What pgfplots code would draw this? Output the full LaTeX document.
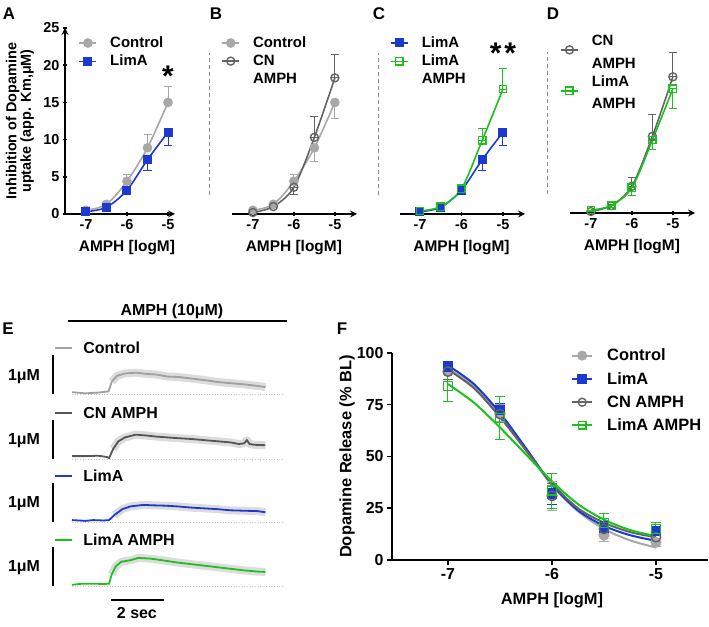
\documentclass[border=0pt]{standalone}
\usepackage{fontspec}
\setmainfont{Liberation Sans}
\usepackage{pgfplots}
\usepackage{pgfplotstable}
\pgfplotsset{compat=1.18}
\definecolor{cCtl}{RGB}{168,168,168}
\definecolor{cLim}{RGB}{28,58,208}
\definecolor{cCN}{RGB}{100,100,100}
\definecolor{cLA}{RGB}{30,192,30}
\definecolor{cDash}{RGB}{140,140,140}
\definecolor{cBand}{RGB}{220,220,220}
\definecolor{tCtl}{RGB}{160,160,160}
\definecolor{tCN}{RGB}{85,85,85}
\newcommand\fsz[1]{\fontsize{#1}{#1}\selectfont\bfseries}
\pgfplotsset{
  ctl/.style={color=cCtl, line width=1.6bp, mark=*, mark size=4bp, mark options={solid}},
  lim/.style={color=cLim, line width=1.6bp, mark=square*, mark size=3.7bp, mark options={solid}},
  cn/.style={color=cCN, line width=1.6bp, mark=o, mark size=4bp, mark options={solid,line width=1.4bp}},
  la/.style={color=cLA, line width=1.6bp, mark=square, mark size=3.7bp, mark options={solid,line width=1.4bp}},
  eb/.style={error bars/y dir=both, error bars/y explicit, error bars/error bar style={line width=1bp}, error bars/error mark options={rotate=90, mark size=4bp, line width=1bp}},
  ebF/.style={error bars/y dir=both, error bars/y explicit, error bars/error bar style={line width=1bp}, error bars/error mark options={rotate=90, mark size=5bp, line width=1bp}},
  dimg/.style={legend image code/.code={\draw[mark repeat=2,mark phase=2,yshift=-9bp] plot coordinates {(0bp,0bp)(8.5bp,0bp)(17bp,0bp)}; \path (28bp,0bp);}},
  panel/.style={scale only axis, height=186bp, ymin=0, ymax=25, anchor=south west, clip=false,
    xtick={-7,-6,-5}, xticklabels={-7,-6,-5},
    tick label style={font=\fsz{14.5}}, label style={font=\fsz{15.5}},
    axis line style={line width=2bp,-}, tick style={line width=1.5bp,black}, major tick length=4bp, tick align=outside,
    xlabel={AMPH [logM]},
    legend cell align=left,
    legend image code/.code={\draw[mark repeat=2,mark phase=2] plot coordinates {(0bp,0bp)(8.5bp,0bp)(17bp,0bp)}; \path (28bp,0bp);},
    legend style={draw=none, fill=none, font=\fsz{15}, anchor=north west, row sep=2bp, nodes={inner sep=2bp}},
  },
}
\pgfplotstableread{
t v
0 0.05
0.5 0.02
1.0 0.04
1.38 0.07
1.5 0.32
1.7 0.47
2.0 0.53
2.4 0.55
2.8 0.52
3.2 0.50
3.6 0.45
4.0 0.44
4.5 0.40
5.0 0.36
5.5 0.31
6.0 0.28
6.5 0.25
7.0 0.21
7.3 0.18
}\trCtl
\pgfplotstableread{
t v
0 0.07
0.5 0.07
1.0 0.08
1.3 0.05
1.4 0.02
1.55 0.25
1.75 0.45
2.0 0.55
2.4 0.62
2.8 0.60
3.2 0.57
3.6 0.55
4.0 0.53
4.5 0.51
5.0 0.48
5.5 0.45
6.0 0.42
6.3 0.38
6.5 0.40
6.6 0.48
6.7 0.38
6.9 0.36
7.3 0.35
}\trCN
\pgfplotstableread{
t v
0 0.05
0.5 0.03
0.8 0.05
1.2 0.04
1.4 0.05
1.6 0.18
1.9 0.33
2.2 0.40
2.7 0.44
3.0 0.43
3.5 0.42
4.0 0.40
4.5 0.37
5.0 0.35
5.5 0.33
6.0 0.30
6.5 0.29
7.0 0.28
7.3 0.25
}\trLim
\pgfplotstableread{
t v
0 0.03
0.4 0.06
0.8 0.06
1.2 0.05
1.4 0.06
1.5 0.30
1.65 0.50
1.85 0.62
2.2 0.66
2.5 0.72
3.0 0.70
3.5 0.65
4.0 0.60
4.5 0.56
5.0 0.52
5.5 0.48
6.0 0.44
6.5 0.40
7.0 0.37
7.3 0.36
}\trLA
\pgfplotstableread{
x y p m
-7 0.5 0.2 0
-6.5 1.3 0.3 0
-6 4.4 0.9 0
-5.5 8.9 1.8 0
-5 15.0 2.2 0
}\aCtl
\pgfplotstableread{
x y p m
-7 0.3 0 0.2
-6.5 0.9 0 0.2
-6 3.2 0 0.5
-5.5 7.3 0 1.4
-5 11.0 0 1.8
}\aLim
\pgfplotstableread{
x y p m
-7 0.5 0 0.2
-6.5 1.3 0.3 0
-6 4.4 0.9 0
-5.5 8.9 0 1.9
-5 15.0 0 2.2
}\bCtl
\pgfplotstableread{
x y p m
-7 0.2 0.2 0
-6.5 1.0 0.2 0
-6 3.6 0 1.0
-5.5 10.3 2.8 0
-5 18.3 3.2 0
}\bCN
\pgfplotstableread{
x y p m
-7 0.4 0.2 0
-6.5 1.0 0.2 0
-6 3.4 0.3 0
-5.5 9.9 1.6 0
-5 16.8 2.8 0
}\cLA
\pgfplotstableread{
x y p m
-7 0.2 0.2 0
-6.5 1.0 0.2 0
-6 3.6 1.2 0
-5.5 10.3 2.9 0
-5 18.3 3.3 0
}\dCN
\pgfplotstableread{
x y p m
-7 0.4 0 0.2
-6.5 1.0 0 0.2
-6 3.4 0 1.1
-5.5 9.8 0 1.3
-5 16.7 0 2.7
}\dLA
\pgfplotstableread{
x y e
-7 91 4
-6.5 71 4
-6 31 7
-5.5 12 3
-5 8.5 2
}\fCtl
\pgfplotstableread{
x y e
-7 93.5 1.5
-6.5 72.5 3
-6 32 5
-5.5 15.5 3
-5 14 2
}\fLim
\pgfplotstableread{
x y e
-7 91 4
-6.5 70.5 4
-6 31 6
-5.5 15 3
-5 11 2
}\fCN
\pgfplotstableread{
x y e
-7 84 7.5
-6.5 68.5 10.5
-6 33.5 8.5
-5.5 18 4.5
-5 15 3
}\fLA
\begin{document}
\begin{tikzpicture}
\useasboundingbox (0,0) rectangle (709bp,627bp);
\node[font=\fsz{17}] at (9bp,613bp) {A};
\node[font=\fsz{17}] at (216bp,613bp) {B};
\node[font=\fsz{17}] at (379bp,613bp) {C};
\node[font=\fsz{17}] at (553bp,613bp) {D};
\node[font=\fsz{17}] at (8bp,298bp) {E};
\node[font=\fsz{17}] at (342bp,298bp) {F};
\node[font=\fsz{30}] at (168bp,551bp) {*};
\node[font=\fsz{30}] at (503bp,574bp) {*\hspace{3bp}*};

% ---------- A
\begin{axis}[panel, at={(65bp,413bp)}, width=110bp, xmin=-7.51, xmax=-4.83, axis lines=left,
  xlabel style={at={(axis description cs:0.563,0)}, anchor=center, yshift=-34bp},
  ytick={0,5,10,15,20,25}, yticklabels={0,5,10,15,20,25},
  ylabel={Inhibition of Dopamine\\uptake (app. Km,μM)},
  ylabel style={at={(axis description cs:-0.41,0.5)}, anchor=center, align=center, font=\fsz{14.5}},
  legend style={at={(0.095,0.975)}}]
\addplot[ctl, smooth, eb] table[x=x, y=y, y error plus=p, y error minus=m] {\aCtl};
\addlegendentry{Control}
\addplot[lim, smooth, eb] table[x=x, y=y, y error plus=p, y error minus=m] {\aLim};
\addlegendentry{LimA}
\end{axis}

% ---------- B
\begin{axis}[panel, at={(232bp,413bp)}, width=125bp, xmin=-7.51, xmax=-4.46, axis x line=bottom, axis y line=none,
  xlabel style={at={(axis description cs:0.495,0)}, anchor=center, yshift=-34bp},
  legend style={at={(-0.11,0.975)}}]
\draw[cDash, line width=1bp, dash pattern=on 4bp off 3bp] (axis cs:-8.05,2.55) -- (axis cs:-8.05,21.6);
\addplot[ctl, smooth, eb] table[x=x, y=y, y error plus=p, y error minus=m] {\bCtl};
\addlegendentry{Control}
\addplot[cn, smooth, eb] table[x=x, y=y, y error plus=p, y error minus=m] {\bCN};
\addlegendentry{CN}
\addlegendimage{empty legend}
\addlegendentry{AMPH}
\end{axis}

% ---------- C
\begin{axis}[panel, at={(400bp,413bp)}, width=125bp, xmin=-7.48, xmax=-4.47, axis x line=bottom, axis y line=none,
  xlabel style={at={(axis description cs:0.492,0)}, anchor=center, yshift=-34bp},
  legend style={at={(-0.104,0.975)}}]
\draw[cDash, line width=1bp, dash pattern=on 4bp off 3bp] (axis cs:-8.0,2.55) -- (axis cs:-8.0,21.6);
\addplot[lim, smooth, eb] table[x=x, y=y, y error plus=p, y error minus=m] {\aLim};
\addlegendentry{LimA}
\addplot[la, smooth, eb] table[x=x, y=y, y error plus=p, y error minus=m] {\cLA};
\addlegendentry{LimA}
\addlegendimage{empty legend}
\addlegendentry{AMPH}
\end{axis}

% ---------- D
\begin{axis}[panel, at={(570bp,414bp)}, width=125bp, xmin=-7.51, xmax=-4.46, axis x line=bottom, axis y line=none,
  xlabel style={at={(axis description cs:0.495,0)}, anchor=center, yshift=-34bp},
  legend style={at={(-0.104,0.98)}}]
\draw[cDash, line width=1bp, dash pattern=on 4bp off 3bp] (axis cs:-8.07,2.55) -- (axis cs:-8.07,21.6);
\addplot[cn, smooth, eb, dimg] table[x=x, y=y, y error plus=p, y error minus=m] {\dCN};
\addlegendentry{CN}
\addlegendimage{empty legend}
\addlegendentry{AMPH}
\addplot[la, smooth, eb, dimg] table[x=x, y=y, y error plus=p, y error minus=m] {\dLA};
\addlegendentry{LimA}
\addlegendimage{empty legend}
\addlegendentry{AMPH}
\end{axis}

% ---------- E
\begin{axis}[scale only axis, at={(72bp,41bp)}, anchor=south west, width=212bp, height=234bp,
  xmin=0, xmax=8, ymin=0, ymax=6, axis lines=none, clip=false]
\addplot[cBand, line width=8bp, line join=round, restrict x to domain=1.45:8, forget plot] table[x=t, y expr=\thisrow{v}+4.92] {\trCtl};
\addplot[gray!45, dotted, line width=0.7bp, forget plot] coordinates {(0,4.92) (7.96,4.92)};
\addplot[tCtl, line width=1.8bp, forget plot] table[x=t, y expr=\thisrow{v}+4.92] {\trCtl};
\addplot[cBand, line width=8bp, line join=round, restrict x to domain=1.45:8, forget plot] table[x=t, y expr=\thisrow{v}+3.26] {\trCN};
\addplot[gray!45, dotted, line width=0.7bp, forget plot] coordinates {(0,3.26) (7.96,3.26)};
\addplot[tCN, line width=1.8bp, forget plot] table[x=t, y expr=\thisrow{v}+3.26] {\trCN};
\addplot[cBand, line width=8bp, line join=round, restrict x to domain=1.45:8, forget plot] table[x=t, y expr=\thisrow{v}+1.64] {\trLim};
\addplot[gray!45, dotted, line width=0.7bp, forget plot] coordinates {(0,1.64) (7.96,1.64)};
\addplot[cLim, line width=1.8bp, forget plot] table[x=t, y expr=\thisrow{v}+1.64] {\trLim};
\addplot[cBand, line width=8bp, line join=round, restrict x to domain=1.45:8, forget plot] table[x=t, y=v] {\trLA};
\addplot[gray!45, dotted, line width=0.7bp, forget plot] coordinates {(0,0) (7.96,0)};
\addplot[cLA, line width=1.8bp, forget plot] table[x=t, y=v] {\trLA};
\draw[tCtl, line width=2bp] (axis cs:-0.64,6.10) -- (axis cs:0,6.10);
\node[anchor=west, font=\fsz{16}] at (axis cs:0.3,6.10) {Control};
\draw[tCN, line width=2bp] (axis cs:-0.64,4.44) -- (axis cs:0,4.44);
\node[anchor=west, font=\fsz{16}] at (axis cs:0.3,4.44) {CN AMPH};
\draw[cLim, line width=2bp] (axis cs:-0.64,2.82) -- (axis cs:0,2.82);
\node[anchor=west, font=\fsz{16}] at (axis cs:0.3,2.82) {LimA};
\draw[cLA, line width=2bp] (axis cs:-0.64,1.18) -- (axis cs:0,1.18);
\node[anchor=west, font=\fsz{16}] at (axis cs:0.3,1.18) {LimA AMPH};
\draw[line width=2bp] (axis cs:-0.72,4.92) -- (axis cs:-0.72,5.92);
\draw[line width=2bp] (axis cs:-0.72,3.26) -- (axis cs:-0.72,4.26);
\draw[line width=2bp] (axis cs:-0.72,1.64) -- (axis cs:-0.72,2.64);
\draw[line width=2bp] (axis cs:-0.72,0) -- (axis cs:-0.72,1);
\node[font=\fsz{16}] at (axis cs:-1.81,5.38) {1μM};
\node[font=\fsz{16}] at (axis cs:-1.81,3.72) {1μM};
\node[font=\fsz{16}] at (axis cs:-1.81,2.10) {1μM};
\node[font=\fsz{16}] at (axis cs:-1.81,0.46) {1μM};
\draw[line width=1.5bp] (axis cs:-0.15,6.79) -- (axis cs:8.11,6.79);
\node[font=\fsz{16}] at (axis cs:3.77,7.05) {AMPH (10μM)};
\draw[line width=2bp] (axis cs:1.47,-0.36) -- (axis cs:3.47,-0.36);
\node[font=\fsz{16}] at (axis cs:2.45,-0.69) {2 sec};
\end{axis}

% ---------- F
\begin{axis}[scale only axis, at={(392bp,67bp)}, anchor=south west, width=316bp, height=207bp,
  xmin=-7.538, xmax=-4.5, ymin=0, ymax=100, axis lines=left, clip=false,
  axis line style={line width=2bp,-}, tick style={line width=1.5bp,black}, major tick length=5bp, tick align=outside,
  xtick={-7,-6,-5}, xticklabels={-7,-6,-5}, ytick={0,25,50,75,100}, yticklabels={0,25,50,75,100},
  tick label style={font=\fsz{16}}, label style={font=\fsz{16.5}},
  xlabel={AMPH [logM]}, xlabel style={at={(axis description cs:0.506,0)}, anchor=center, yshift=-40bp},
  ylabel={Dopamine Release (\% BL)}, ylabel style={at={(axis description cs:-0.142,0.5)}, anchor=center},
  legend cell align=left,
  legend image code/.code={\draw[mark repeat=2,mark phase=2] plot coordinates {(0bp,0bp)(10bp,0bp)(20bp,0bp)}; \path (32bp,0bp);},
  legend style={at={(0.557,1.04)}, anchor=north west, draw=none, fill=none, font=\fsz{16.5}, row sep=6bp, nodes={inner sep=2bp}}]
\addplot[cCtl, line width=2bp, smooth, forget plot] coordinates {(-7,92.5) (-6.75,84) (-6.5,70) (-6.25,53) (-6,36) (-5.75,23.5) (-5.5,15) (-5.25,9.5) (-5,6)};
\addplot[cLim, line width=2bp, smooth, forget plot] coordinates {(-7,94) (-6.75,85) (-6.5,71) (-6.25,54) (-6,36.5) (-5.75,24) (-5.5,16.5) (-5.25,12) (-5,9.3)};
\addplot[cCN, line width=2bp, smooth, forget plot] coordinates {(-7,92) (-6.75,83) (-6.5,69) (-6.25,53) (-6,37) (-5.75,25) (-5.5,18) (-5.25,13.5) (-5,11)};
\addplot[cLA, line width=2bp, smooth, forget plot] coordinates {(-7,85) (-6.75,76) (-6.5,64) (-6.25,51) (-6,38) (-5.75,27) (-5.5,19.5) (-5.25,14.5) (-5,11.5)};
\addplot[ctl, only marks, mark size=4.7bp, ebF, forget plot] table[x=x, y=y, y error=e] {\fCtl};
\addplot[lim, only marks, mark size=4.5bp, ebF, forget plot] table[x=x, y=y, y error=e] {\fLim};
\addplot[cn, only marks, mark size=4.7bp, ebF, forget plot] table[x=x, y=y, y error=e] {\fCN};
\addplot[la, only marks, mark size=4.5bp, ebF, forget plot] table[x=x, y=y, y error=e] {\fLA};
\addlegendimage{ctl, line width=2bp, mark size=4bp}
\addlegendentry{Control}
\addlegendimage{lim, line width=2bp, mark size=3.8bp}
\addlegendentry{LimA}
\addlegendimage{cn, line width=2bp, mark size=4bp}
\addlegendentry{CN AMPH}
\addlegendimage{la, line width=2bp, mark size=3.8bp}
\addlegendentry{LimA AMPH}
\end{axis}
\end{tikzpicture}
\end{document}
